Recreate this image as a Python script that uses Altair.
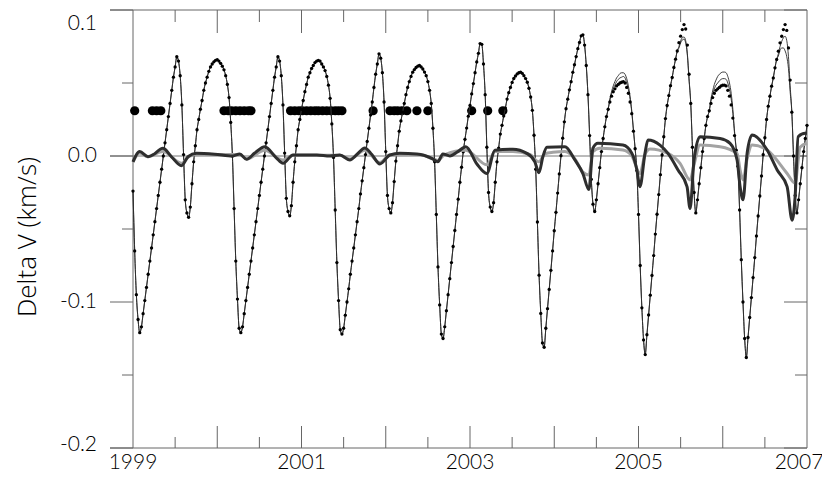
import altair as alt
import pandas as pd

# ---------------- data ----------------
T0 = 1999.0   # first sample of the observed series (year)
DT = 0.02     # sampling step of the observed series (years)

# observed Delta V, one list per ~1.2-year cycle
obs_c0 = [-0.024, -0.065, -0.095, -0.112]
obs_c1 = [-0.121, -0.117, -0.108, -0.099, -0.090, -0.081, -0.072, -0.063, -0.054, -0.045,
          -0.036, -0.027, -0.018, -0.009, 0.000, 0.009, 0.018, 0.027, 0.036, 0.045,
          0.054, 0.061, 0.068,
          0.065, 0.055, 0.035, 0.001, -0.030, -0.039, -0.042,
          -0.035, -0.019, -0.004, 0.007, 0.018, 0.025, 0.032, 0.038, 0.045, 0.050,
          0.054, 0.058, 0.061, 0.063, 0.0645, 0.0655, 0.066,
          0.065, 0.0635, 0.0615, 0.059, 0.055, 0.049, 0.040, 0.023, 0.000, -0.036,
          -0.072, -0.098, -0.118]
obs_c2 = [-0.121, -0.117, -0.108, -0.099, -0.090, -0.081, -0.072, -0.063, -0.054, -0.045,
          -0.036, -0.027, -0.018, -0.009, 0.000, 0.009, 0.018, 0.027, 0.036, 0.045,
          0.054, 0.061, 0.068,
          0.065, 0.055, 0.035, 0.002, -0.029, -0.038, -0.041,
          -0.034, -0.018, -0.004, 0.007, 0.018, 0.025, 0.032, 0.038, 0.044, 0.049,
          0.054, 0.057, 0.060, 0.062, 0.064, 0.065, 0.0655,
          0.065, 0.063, 0.061, 0.0585, 0.0545, 0.0485, 0.0395, 0.022, -0.001, -0.037,
          -0.073, -0.099, -0.119]
obs_c3 = [-0.122, -0.118, -0.109, -0.100, -0.091, -0.081, -0.072, -0.063, -0.054, -0.045,
          -0.036, -0.026, -0.017, -0.008, 0.001, 0.010, 0.019, 0.028, 0.037, 0.047,
          0.056, 0.063, 0.070,
          0.067, 0.057, 0.037, 0.003, -0.027, -0.036, -0.039,
          -0.032, -0.0175, -0.0035, 0.007, 0.017, 0.024, 0.030, 0.036, 0.042, 0.047,
          0.051, 0.0545, 0.0574, 0.0592, 0.0606, 0.0615, 0.062,
          0.061, 0.0596, 0.0575, 0.055, 0.051, 0.045, 0.036, 0.019, -0.004, -0.040,
          -0.076, -0.102, -0.122]
obs_c4 = [-0.125, -0.117, -0.106, -0.095, -0.084, -0.073, -0.062, -0.051, -0.040, -0.0296,
          -0.018, -0.0077, 0.0029, 0.0114, 0.0191, 0.0273, 0.0346, 0.0425, 0.0496, 0.0571,
          0.0644, 0.0703, 0.077,
          0.0765, 0.063, 0.042, 0.006, -0.025, -0.035, -0.038,
          -0.032, -0.018, -0.004, 0.0054, 0.015, 0.021, 0.0274, 0.0328, 0.039, 0.0434,
          0.047, 0.0504, 0.0531, 0.0548, 0.0562, 0.057, 0.0575,
          0.0566, 0.055, 0.053, 0.0505, 0.0464, 0.0404, 0.0313, 0.0142, -0.009, -0.0452,
          -0.0816, -0.1078, -0.128]
obs_c5 = [-0.131, -0.118, -0.1046, -0.0914, -0.0783, -0.065, -0.0512, -0.0386, -0.0254, -0.0123,
          0.0002, 0.0122, 0.0234, 0.0324, 0.0389, 0.0453, 0.0509, 0.0573, 0.0625, 0.0681,
          0.0735, 0.0778, 0.0823,
          0.083, 0.076, 0.062, 0.042, 0.014, -0.016, -0.033, -0.038,
          -0.030, -0.019, -0.008, 0.003, 0.012, 0.020, 0.027, 0.032, 0.037, 0.041,
          0.044, 0.046, 0.048, 0.049, 0.050, 0.0505, 0.051,
          0.050, 0.047, 0.043, 0.037, 0.029, 0.017, 0.005, -0.010, -0.040, -0.075,
          -0.104, -0.126]
obs_c6 = [-0.136, -0.1224, -0.1089, -0.0953, -0.0818, -0.0682, -0.0535, -0.0399, -0.0264, -0.0128,
          0.0007, 0.0132, 0.0256, 0.0346, 0.0414, 0.0482, 0.0538, 0.0606, 0.0663, 0.0719,
          0.0776, 0.0821, 0.0866, 0.090,
          0.087, 0.076, 0.056, 0.036, 0.006, -0.025, -0.039,
          -0.030, -0.019, -0.008, 0.003, 0.012, 0.021, 0.027, 0.031, 0.036, 0.040,
          0.043, 0.045, 0.046, 0.047, 0.048, 0.0485, 0.0486,
          0.048, 0.045, 0.041, 0.035, 0.026, 0.014, 0.004, -0.007, -0.037, -0.071,
          -0.100, -0.125]
obs_c7 = [-0.138, -0.1243, -0.1106, -0.097, -0.0833, -0.0696, -0.0548, -0.0411, -0.0274, -0.0137,
          0.0009, 0.0125, 0.025, 0.0341, 0.041, 0.0478, 0.0535, 0.0604, 0.0661, 0.0718,
          0.0775, 0.082, 0.0866, 0.090,
          0.086, 0.074, 0.052, 0.030, 0.000, -0.027, -0.039,
          -0.030, -0.019, -0.008, 0.003, 0.012, 0.021]

# model curves: equal to the observations except in these windows (start index: values)
model1_windows = {
    283: [0.039, 0.044, 0.048, 0.051, 0.0535, 0.055, 0.0565, 0.057, 0.057, 0.056, 0.053, 0.048,
          0.041, 0.031, 0.018],
    324: [0.075, 0.079, 0.081, 0.0815, 0.079, 0.070, 0.053],
    343: [0.039, 0.0445, 0.049, 0.052, 0.0545, 0.056, 0.057, 0.0575, 0.0575, 0.057, 0.0545, 0.050,
          0.043, 0.032, 0.017, 0.005],
    383: [0.070, 0.075, 0.0785, 0.081, 0.082, 0.079, 0.068, 0.048],
}
model2_windows = {
    283: [0.038, 0.0425, 0.046, 0.0485, 0.051, 0.0525, 0.0535, 0.054, 0.0545, 0.0535, 0.050,
          0.0455, 0.039, 0.030, 0.0175],
    324: [0.074, 0.0775, 0.0795, 0.080, 0.0775, 0.069, 0.052],
    343: [0.0375, 0.042, 0.046, 0.0485, 0.050, 0.0515, 0.0525, 0.053, 0.053, 0.0525, 0.050, 0.0455,
          0.039, 0.029, 0.0155, 0.0045],
    383: [0.0685, 0.0725, 0.074, 0.074, 0.072, 0.068, 0.060, 0.044],
}

# dark (thick) difference curve
dark_years = [1999.000, 1999.080, 1999.178, 1999.234, 1999.356, 1999.456, 1999.575, 1999.653,
              1999.753, 1999.970, 2000.184, 2000.267, 2000.347, 2000.445, 2000.564, 2000.703,
              2000.781, 2000.900, 2001.182, 2001.336, 2001.455, 2001.574, 2001.657, 2001.752,
              2001.835, 2001.930, 2002.049, 2002.167, 2002.369, 2002.559, 2002.618, 2002.678,
              2002.761, 2002.856, 2002.951, 2003.082, 2003.200, 2003.295, 2003.509, 2003.675,
              2003.770, 2003.818, 2003.865, 2003.913, 2004.127, 2004.245, 2004.340, 2004.411,
              2004.459, 2004.518, 2004.815, 2004.922, 2004.981, 2005.017, 2005.077, 2005.112,
              2005.255, 2005.350, 2005.469, 2005.576, 2005.612, 2005.659, 2005.730, 2005.968,
              2006.087, 2006.170, 2006.206, 2006.241, 2006.289, 2006.349, 2006.527, 2006.646,
              2006.764, 2006.823, 2006.859, 2006.895, 2006.978, 2007.000]
dark_vals = [-0.004, 0.003, -0.0005, 0.0007, 0.0053, -0.0005, -0.0066, -0.0005,
             0.0018, 0.0012, 0.000, 0.0014, -0.0023, 0.002, 0.0064, -0.0014,
             -0.005, 0.0007, 0.0007, 0.000, 0.0007, -0.0027, 0.001, 0.0055,
             0.001, -0.0055, 0.0007, 0.0018, 0.0014, -0.002, -0.004, 0.0014,
             0.000, 0.003, 0.0064, -0.0055, -0.012, 0.004, 0.0046, 0.0018,
             -0.004, -0.0114, -0.0005, 0.006, 0.0064, -0.0027, -0.012, -0.023,
             0.0053, 0.0087, 0.0075, 0.0018, -0.0096, -0.021, 0.0018, 0.011,
             0.0075, 0.0018, -0.0096, -0.021, -0.036, -0.0027, 0.0132, 0.012,
             0.0087, -0.0027, -0.021, -0.030, 0.0018, 0.0144, 0.0041, -0.0096,
             -0.021, -0.044, -0.028, 0.0132, 0.0155, 0.0155]

# grey (thick) difference curve
grey_years = [1999.000, 1999.080, 1999.175, 1999.356, 1999.575, 1999.673, 1999.792, 2000.267,
              2000.350, 2000.564, 2000.781, 2000.897, 2001.455, 2001.574, 2001.752, 2001.930,
              2002.049, 2002.405, 2002.618, 2002.701, 2002.951, 2003.200, 2003.295, 2003.509,
              2003.711, 2003.818, 2003.889, 2003.984, 2004.127, 2004.245, 2004.340, 2004.411,
              2004.459, 2004.542, 2004.815, 2004.922, 2005.017, 2005.077, 2005.136, 2005.350,
              2005.493, 2005.612, 2005.659, 2005.730, 2005.968, 2006.170, 2006.206, 2006.241,
              2006.289, 2006.349, 2006.527, 2006.764, 2006.859, 2006.918, 2007.000]
grey_vals = [-0.004, 0.002, -0.0005, 0.003, -0.005, 0.000, 0.001, 0.001,
             -0.002, 0.004, -0.0027, 0.0005, 0.0005, -0.002, 0.004, -0.0045,
             0.0007, 0.001, -0.003, 0.001, 0.004, -0.006, 0.003, 0.003,
             0.001, -0.004, 0.0015, 0.0025, 0.003, -0.002, -0.011, -0.013,
             0.003, 0.0053, 0.0041, 0.000, -0.012, 0.001, 0.0048, 0.0018,
             -0.005, -0.0164, -0.006, 0.0075, 0.0064, 0.0018, -0.0096, -0.0164,
             -0.002, 0.0075, 0.0041, -0.012, -0.0187, 0.006, 0.0087]

# data-coverage markers
big_dot_years = [1999.02, 1999.23, 1999.28, 1999.33,
                 2000.08, 2000.13, 2000.17, 2000.22, 2000.27, 2000.32, 2000.37, 2000.40,
                 2000.87, 2000.92, 2000.97, 2001.01, 2001.06, 2001.11, 2001.16, 2001.20,
                 2001.25, 2001.30, 2001.35, 2001.40, 2001.44, 2001.48,
                 2001.85, 2002.05, 2002.10, 2002.14, 2002.19, 2002.25, 2002.37, 2002.50,
                 2003.02, 2003.21, 2003.39]
big_dot_level = 0.031

# axis ticks / labels
x_label_years = [1999, 2001, 2003, 2005]
x_label_text = ["1999", "2001", "2003", "2005"]
x_last_year = [2007]
x_last_text = ["2007"]
y_top_val, y_top_text = [0.1], ["0.1"]
y_mid_vals, y_mid_text = [0.0, -0.1], ["0.0", "-0.1"]
y_bot_val, y_bot_text = [-0.2], ["-0.2"]
y_title = "Delta V (km/s)"
year_ticks = [2000, 2001, 2002, 2003, 2004, 2005, 2006]
half_year_ticks = [1999.5, 2000.5, 2001.5, 2002.5, 2003.5, 2004.5, 2005.5, 2006.5]
y_major = [0.1, 0.0, -0.1, -0.2]
y_minor = [0.05, -0.05, -0.15]

# ---------------- tables ----------------
obs = obs_c0 + obs_c1 + obs_c2 + obs_c3 + obs_c4 + obs_c5 + obs_c6 + obs_c7
years = [round(T0 + DT * i, 4) for i in range(len(obs))]


def with_windows(windows):
    vals = list(obs)
    for start, seg in windows.items():
        vals[start:start + len(seg)] = seg
    return vals


m1 = with_windows(model1_windows)
m2 = with_windows(model2_windows)
n = len(obs)

df_obs = pd.DataFrame({"year": years, "v": obs})
df_model = pd.DataFrame({"year": years + years, "v": m1 + m2,
                         "series": ["m1"] * n + ["m2"] * n})
df_dark = pd.DataFrame({"year": dark_years, "v": dark_vals})
df_grey = pd.DataFrame({"year": grey_years, "v": grey_vals})
df_big = pd.DataFrame({"year": big_dot_years, "v": [big_dot_level] * len(big_dot_years)})
df_one = pd.DataFrame({"a": [0]})

# ---------------- chart ----------------
W, H = 674, 438
FONT = "Lato"
TITLE_FONT = "Open Sans"
FRAME = "#666666"

xs = alt.Scale(domain=[1999, 2007], nice=False, zero=False)
ys = alt.Scale(domain=[-0.2, 0.1], nice=False, zero=False)


def xq():
    return alt.X("year:Q", scale=xs, axis=None)


def yq():
    return alt.Y("v:Q", scale=ys, axis=None)


frame_layers = [
    alt.Chart(df_one).mark_rule(color=FRAME, strokeWidth=1).encode(
        x=alt.value(-23), x2=alt.value(W), y=alt.value(0)),
    alt.Chart(df_one).mark_rule(color=FRAME, strokeWidth=1).encode(
        x=alt.value(-23), x2=alt.value(W), y=alt.value(H)),
    alt.Chart(df_one).mark_rule(color=FRAME, strokeWidth=1).encode(
        x=alt.value(0), y=alt.value(0), y2=alt.value(H)),
    alt.Chart(df_one).mark_rule(color=FRAME, strokeWidth=1).encode(
        x=alt.value(W), y=alt.value(0), y2=alt.value(H)),
    # zero line
    alt.Chart(df_one).mark_rule(color="#777777", strokeWidth=1).encode(
        y=alt.datum(0, scale=ys, axis=None), x=alt.value(-23), x2=alt.value(W)),
    # left outward ticks
    alt.Chart(pd.DataFrame({"v": y_major})).mark_rule(color=FRAME).encode(
        y=yq(), x=alt.value(-23), x2=alt.value(0)),
    alt.Chart(pd.DataFrame({"v": y_minor})).mark_rule(color=FRAME).encode(
        y=yq(), x=alt.value(-11), x2=alt.value(0)),
    # right inward ticks
    alt.Chart(pd.DataFrame({"v": y_major})).mark_rule(color=FRAME).encode(
        y=yq(), x=alt.value(W - 23), x2=alt.value(W)),
    alt.Chart(pd.DataFrame({"v": y_minor})).mark_rule(color=FRAME).encode(
        y=yq(), x=alt.value(W - 12), x2=alt.value(W)),
    # bottom inward ticks
    alt.Chart(pd.DataFrame({"year": year_ticks})).mark_rule(color=FRAME).encode(
        x=xq(), y=alt.value(H - 22), y2=alt.value(H)),
    alt.Chart(pd.DataFrame({"year": half_year_ticks})).mark_rule(color=FRAME).encode(
        x=xq(), y=alt.value(H - 11), y2=alt.value(H)),
    # top inward ticks
    alt.Chart(pd.DataFrame({"year": year_ticks})).mark_rule(color=FRAME).encode(
        x=xq(), y=alt.value(0), y2=alt.value(23)),
    alt.Chart(pd.DataFrame({"year": half_year_ticks})).mark_rule(color=FRAME).encode(
        x=xq(), y=alt.value(0), y2=alt.value(12)),
]

lab = dict(font=FONT, fontSize=21, fontWeight=300, color="black")
text_layers = [
    alt.Chart(pd.DataFrame({"year": x_label_years, "label": x_label_text})).mark_text(
        align="center", baseline="top", **lab).encode(
        x=xq(), y=alt.value(H + 4), text="label:N"),
    alt.Chart(pd.DataFrame({"year": x_last_year, "label": x_last_text})).mark_text(
        align="center", baseline="top", dx=-8, **lab).encode(
        x=xq(), y=alt.value(H + 4), text="label:N"),
    alt.Chart(pd.DataFrame({"v": y_top_val, "label": y_top_text})).mark_text(
        align="right", baseline="top", dy=3, **lab).encode(
        y=yq(), x=alt.value(-36), text="label:N"),
    alt.Chart(pd.DataFrame({"v": y_mid_vals, "label": y_mid_text})).mark_text(
        align="right", baseline="middle", **lab).encode(
        y=yq(), x=alt.value(-36), text="label:N"),
    alt.Chart(pd.DataFrame({"v": y_bot_val, "label": y_bot_text})).mark_text(
        align="right", baseline="middle", dy=-3, **lab).encode(
        y=yq(), x=alt.value(-36), text="label:N"),
    alt.Chart(df_one).mark_text(font=TITLE_FONT, fontSize=26, fontWeight=300, color="black",
                                align="center", baseline="alphabetic", angle=270).encode(
        x=alt.value(-97), y=alt.value(227), text=alt.value(y_title)),
]

big = alt.Chart(df_big).mark_circle(size=85, color="black", opacity=1).encode(x=xq(), y=yq())
models = alt.Chart(df_model).mark_line(color="#2a2a2a", strokeWidth=0.9,
                                       interpolate="monotone").encode(
    x=xq(), y=yq(), detail="series:N")
points = alt.Chart(df_obs).mark_circle(size=11, color="black", opacity=1).encode(
    x=xq(), y=yq())
grey = alt.Chart(df_grey).mark_line(color="#a3a3a3", strokeWidth=3,
                                    interpolate="monotone").encode(x=xq(), y=yq())
dark = alt.Chart(df_dark).mark_line(color="#2e2e2e", strokeWidth=3,
                                    interpolate="monotone").encode(x=xq(), y=yq())

chart = alt.layer(*frame_layers, big, models, points, grey, dark, *text_layers).properties(
    width=W, height=H,
    padding={"left": 125, "top": 2, "right": 15, "bottom": 28},
    autosize=alt.AutoSizeParams(type="none"),
    background="white",
).configure_view(stroke=None)

chart.save("out.html", embed_options={"renderer": "svg", "actions": False})
